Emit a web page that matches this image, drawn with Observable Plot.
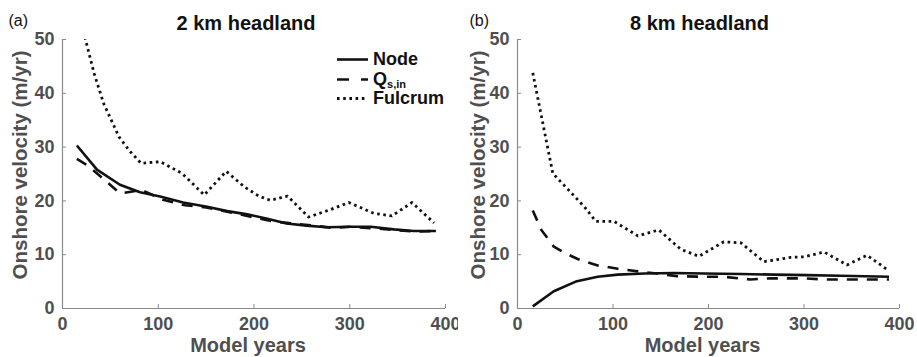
<!DOCTYPE html>
<html><head><meta charset="utf-8">
<script src="https://cdn.jsdelivr.net/npm/d3@7"></script>
<script src="https://cdn.jsdelivr.net/npm/@observablehq/plot@0.6"></script>
<style>
body{margin:0;background:#fff;font-family:"Liberation Sans",Arial,sans-serif;}
#wrap{position:relative;width:917px;height:357px;overflow:hidden;}
.panel{position:absolute;top:0;}
.legend{position:absolute;left:336px;top:48px;font-weight:bold;font-size:18px;color:#111;}
.legend .row{position:absolute;left:0;white-space:nowrap;height:22px;}
.legend svg{position:absolute;left:0;top:0;}
.legend span.t{position:absolute;left:37px;top:0;line-height:22px;}
.legend sub{font-size:11px;vertical-align:-3px;line-height:0;}
</style></head><body>
<div id="wrap"></div>
<script>
// ---- tick labels ----
const xTicks = [0, 100, 200, 300, 400];
const yTicks = [0, 10, 20, 30, 40, 50];
const seriesNames = ["Node", "Qs,in", "Fulcrum"];
const panelTitles = ["2 km headland", "8 km headland"];
const panelTags = ["(a)", "(b)"];

// ---- (a) 2 km headland ----
const nodeA_year = [15, 36, 60, 81, 102, 126, 151, 172, 193, 214, 234, 255, 276, 301, 322, 346, 367, 390];
const nodeA_vel  = [30.3, 25.8, 23.0, 21.6, 20.8, 19.7, 18.9, 18.1, 17.5, 16.7, 15.8, 15.4, 15.1, 15.2, 15.2, 14.7, 14.4, 14.4];
const qsA_year = [15, 26, 38, 60, 83, 105, 128, 150, 172, 198, 220, 240, 262, 282, 301, 325, 346, 367, 390];
const qsA_vel  = [27.8, 26.6, 24.8, 21.4, 22.0, 20.2, 19.2, 18.8, 18.0, 17.0, 16.2, 15.8, 15.4, 15.0, 15.2, 14.9, 14.6, 14.3, 14.4];
const fulA_year = [15, 24, 33, 43, 59, 70, 82, 102, 125, 148, 171, 190, 205, 217, 235, 257, 280, 299, 325, 344, 365, 388];
const fulA_vel  = [56, 50, 43.7, 38.1, 31.9, 29.3, 27.0, 27.3, 25.1, 21.1, 25.5, 22.6, 20.9, 20.1, 20.9, 17.0, 18.4, 19.7, 17.7, 17.2, 19.7, 15.9];

// ---- (b) 8 km headland ----
const nodeB_year = [16, 38, 61, 84, 105, 133, 164, 195, 234, 269, 303, 338, 389];
const nodeB_vel  = [0.4, 3.2, 5.0, 5.9, 6.3, 6.5, 6.6, 6.5, 6.4, 6.3, 6.2, 6.1, 5.9];
const qsB_year = [16, 25, 38, 52, 63, 84, 105, 126, 146, 167, 195, 216, 244, 265, 300, 321, 356, 389];
const qsB_vel  = [18.2, 14.6, 11.5, 10.1, 9.2, 8.0, 7.4, 6.9, 6.5, 6.0, 5.9, 5.9, 5.4, 5.6, 5.6, 5.4, 5.4, 5.4];
const fulB_year = [16, 37, 52, 70, 82, 101, 126, 148, 171, 190, 216, 234, 258, 286, 300, 321, 345, 366, 389];
const fulB_vel  = [43.8, 25.1, 22.3, 18.9, 16.2, 16.2, 13.5, 14.6, 11.0, 9.7, 12.4, 12.2, 8.7, 9.5, 9.6, 10.5, 8.1, 9.9, 7.0];

function rows(years, vals, name) { return years.map((t, i) => ({year: t, v: vals[i], series: name})); }

const styles = {
  "Node":    {strokeWidth: 2.6, strokeDasharray: null, strokeLinecap: "butt"},
  "Qs,in":   {strokeWidth: 2.6, strokeDasharray: "11,9", strokeLinecap: "butt"},
  "Fulcrum": {strokeWidth: 2.8, strokeDasharray: "2.6,3.6", strokeLinecap: "butt"}
};

const FONT = "Liberation Sans, Arial, Helvetica, sans-serif";
const GRAY = "#4f4f4f";

function panel(data, title, tag, width, marginLeft, marginRight, titleDx, tagX) {
  const lines = seriesNames.map(name => Plot.line(data.filter(d => d.series === name), {
    x: "year", y: "v", stroke: "#111", clip: true, strokeLinejoin: "round", ...styles[name]
  }));
  return Plot.plot({
    width, height: 357, marginLeft, marginRight, marginTop: 39, marginBottom: 49,
    style: {fontFamily: FONT, background: "white", overflow: "visible"},
    x: {domain: [0, 400]},
    y: {domain: [0, 50]},
    marks: [
      Plot.ruleY([0], {stroke: "#8a8a8a", strokeWidth: 1.2}),
      Plot.ruleX([0], {stroke: "#8a8a8a", strokeWidth: 1.2}),
      Plot.axisX(xTicks, {tickSize: -4, tickPadding: 13, stroke: "#8a8a8a", fill: GRAY, fontSize: 18, fontWeight: "bold", label: null, tickFormat: d => String(d)}),
      Plot.axisY(yTicks, {tickSize: -4, tickPadding: 12, stroke: "#8a8a8a", fill: GRAY, fontSize: 18, fontWeight: "bold", label: null, tickFormat: d => String(d)}),
      ...lines,
      Plot.text(["Model years"], {frameAnchor: "bottom", lineAnchor: "bottom", dy: 43, dx: -6, fill: GRAY, fontSize: 20, fontWeight: "bold"}),
      Plot.text(["Onshore velocity (m/yr)"], {frameAnchor: "left", textAnchor: "middle", lineAnchor: "middle", dx: -marginLeft + 20, dy: -9, rotate: -90, fill: GRAY, fontSize: 20.5, fontWeight: "bold"}),
      Plot.text([title], {frameAnchor: "top", lineAnchor: "middle", dy: -16, dx: titleDx, fill: "#111", fontSize: 20, fontWeight: "bold"}),
      Plot.text([tag], {frameAnchor: "top-left", textAnchor: "start", lineAnchor: "middle", dx: -marginLeft + tagX, dy: -19, fill: "#111", fontSize: 16})
    ]
  });
}

const dataA = [...rows(nodeA_year, nodeA_vel, "Node"), ...rows(qsA_year, qsA_vel, "Qs,in"), ...rows(fulA_year, fulA_vel, "Fulcrum")];
const dataB = [...rows(nodeB_year, nodeB_vel, "Node"), ...rows(qsB_year, qsB_vel, "Qs,in"), ...rows(fulB_year, fulB_vel, "Fulcrum")];

const wrap = document.getElementById("wrap");
const pA = panel(dataA, panelTitles[0], panelTags[0], 458, 62, 13, -8, 8);
pA.classList.add("panel"); pA.style.left = "0px";
const pB = panel(dataB, panelTitles[1], panelTags[1], 459, 59, 18, -9, 11);
pB.classList.add("panel"); pB.style.left = "458px";
wrap.appendChild(pA);
wrap.appendChild(pB);

// legend (panel a)
const legend = document.createElement("div");
legend.className = "legend";
const legendLabels = ["Node", "Q<sub>s,in</sub>", "Fulcrum"];
seriesNames.forEach((name, i) => {
  const row = document.createElement("div");
  row.className = "row";
  row.style.top = (i * 19.5) + "px";
  const st = styles[name];
  row.innerHTML = `<svg width="34" height="22"><line x1="1" x2="32" y1="11.5" y2="11.5" stroke="#111" stroke-width="${st.strokeWidth}" ${st.strokeDasharray ? `stroke-dasharray="${name === "Qs,in" ? "12,12" : st.strokeDasharray}"` : ""}/></svg><span class="t">${legendLabels[i]}</span>`;
  legend.appendChild(row);
});
wrap.appendChild(legend);
</script>
</body></html>
